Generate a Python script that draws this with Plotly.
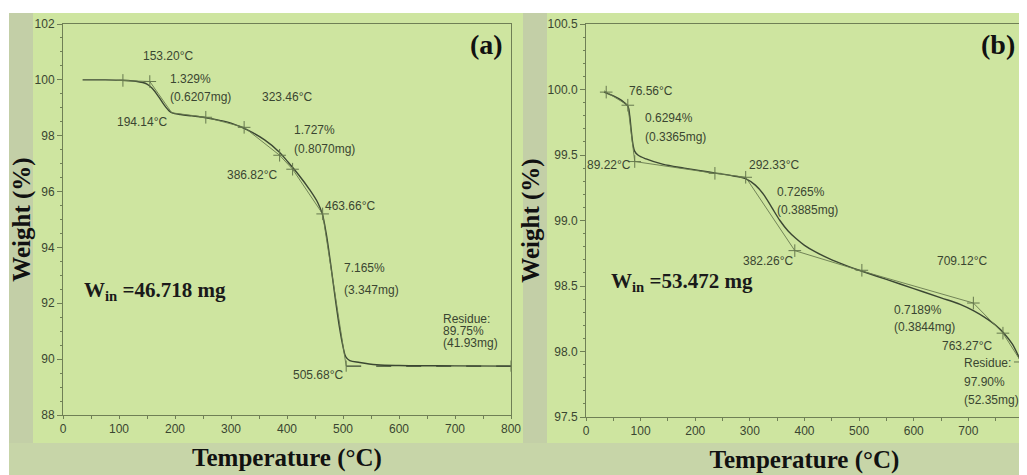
import plotly.graph_objects as go

# The page body keeps its default 8px margin, so the figure is drawn 8px smaller
# and every layout position below is given in window pixels minus that offset.
WIN_W, WIN_H = 1027, 475
OFF = 8
W, H = WIN_W - OFF, WIN_H - OFF

# ---------------- data: panel (a) ----------------
temp_a = [35, 70, 100, 130, 150, 160, 170, 180, 190, 195, 210, 230, 250, 280, 300, 330,
          360, 386, 400, 420, 440, 455, 463, 470, 478, 486, 494, 500, 505, 512, 530, 560,
          600, 700, 800]
weight_a = [100.0, 100.0, 99.99, 99.95, 99.85, 99.68, 99.42, 99.12, 98.88, 98.82, 98.76, 98.71,
            98.66, 98.55, 98.45, 98.2, 97.85, 97.42, 97.1, 96.62, 96.08, 95.6, 95.2, 94.5,
            93.4, 92.2, 91.1, 90.45, 90.08, 89.95, 89.88, 89.8, 89.77, 89.76, 89.75]

# tangent / construction lines (a)
tan_a_x = [[100, 155], [155, 194.14], [194.14, 255], [255, 323.46], [323.46, 386.82],
           [386.82, 410], [410, 463.66], [463.66, 505.68]]
tan_a_y = [[99.98, 99.94], [99.94, 98.82], [98.82, 98.66], [98.66, 98.3], [98.3, 97.3],
           [97.3, 96.8], [96.8, 95.2], [95.2, 89.75]]
mark_a_x = [107, 155, 255, 323.46, 386.82, 410, 463.66]
mark_a_y = [99.98, 99.94, 98.66, 98.3, 97.3, 96.8, 95.2]
resid_a_x = [505.68, 800]
resid_a_y = [89.75, 89.75]

labels_a = ["153.20°C", "1.329%", "(0.6207mg)", "194.14°C", "323.46°C", "1.727%",
            "(0.8070mg)", "386.82°C", "463.66°C", "7.165%", "(3.347mg)", "Residue:",
            "89.75%", "(41.93mg)", "505.68°C"]
lab_a_x = [140, 187, 187, 191, 352, 409, 409, 387, 464, 498, 498, 675, 675, 675, 505]
lab_a_y = [100.85, 100.02, 99.38, 98.5, 99.4, 98.22, 97.52, 96.58, 95.48, 93.27, 92.48,
           91.42, 90.99, 90.57, 89.44]
lab_a_anchor = ["left", "left", "left", "right", "left", "left", "left", "right", "left",
                "left", "left", "left", "left", "left", "right"]

# ---------------- data: panel (b) ----------------
temp_b = [33, 45, 60, 70, 77, 80, 83, 86, 89, 95, 110, 140, 180, 210, 240, 270, 292, 310,
          325, 340, 355, 370, 385, 400, 420, 450, 480, 500, 550, 600, 650, 685, 710, 730,
          750, 765, 780, 790, 800]
weight_b = [99.98, 99.96, 99.93, 99.9, 99.87, 99.8, 99.68, 99.58, 99.53, 99.5, 99.47,
            99.43, 99.4, 99.38, 99.36, 99.34, 99.32, 99.27, 99.2, 99.1, 99.0, 98.92,
            98.86, 98.81, 98.76, 98.7, 98.65, 98.62, 98.55, 98.48, 98.41, 98.36, 98.31,
            98.26, 98.2, 98.14, 98.06, 97.98, 97.88]

tan_b_x = [[33, 76.56], [76.56, 89.22], [89.22, 236], [236, 292.33], [292.33, 382.26],
           [382.26, 500], [500, 709.12], [709.12, 763.27], [763.27, 800]]
tan_b_y = [[99.99, 99.88], [99.88, 99.45], [99.45, 99.36], [99.36, 99.33], [99.33, 98.77],
           [98.77, 98.62], [98.62, 98.37], [98.37, 98.14], [98.14, 97.9]]
mark_b_x = [37, 76.56, 89.22, 236, 292.33, 382.26, 505, 709.12, 763.27, 795]
mark_b_y = [99.98, 99.88, 99.45, 99.36, 99.33, 98.77, 98.62, 98.37, 98.14, 97.92]

labels_b = ["76.56°C", "0.6294%", "(0.3365mg)", "89.22°C", "292.33°C", "0.7265%",
            "(0.3885mg)", "382.26°C", "709.12°C", "0.7189%", "(0.3844mg)", "763.27°C",
            "Residue:", "97.90%", "(52.35mg)"]
lab_b_x = [75, 104, 104, 86, 295, 346, 346, 385, 639, 561, 561, 648, 689, 689, 689]
lab_b_y = [99.99, 99.78, 99.64, 99.42, 99.42, 99.22, 99.08, 98.69, 98.69, 98.32, 98.19,
           98.04, 97.91, 97.77, 97.63]
lab_b_anchor = ["left", "left", "left", "right", "left", "left", "left", "right", "left",
                "left", "left", "left", "left", "left", "left"]

win_a = "W<sub>in</sub> =46.718 mg"
win_b = "W<sub>in</sub> =53.472 mg"

# ---------------- styling ----------------
CURVE = "#3b4733"
TAN = "#66784e"
AX = "#6f7f55"
TXT = "#3a4531"
PANEL = "#cee5a0"
OUTER = "#c7d5a8"
STRIP = "#c3cfa7"
SANS = "Liberation Sans, Arial, sans-serif"
SERIF = "Liberation Serif, Times New Roman, serif"


def px_x(p):
    return (p - OFF) / W


def px_y(p):
    return 1 - (p - OFF) / H


fig = go.Figure()

# panel (a)
fig.add_trace(go.Scatter(x=temp_a, y=weight_a, mode="lines", line=dict(color=CURVE, width=1.4),
                         xaxis="x", yaxis="y", showlegend=False, line_shape="spline"))
for xs, ys in zip(tan_a_x, tan_a_y):
    fig.add_trace(go.Scatter(x=xs, y=ys, mode="lines", line=dict(color=TAN, width=0.9),
                             xaxis="x", yaxis="y", showlegend=False))
fig.add_trace(go.Scatter(x=mark_a_x, y=mark_a_y, mode="markers",
                         marker=dict(symbol="cross-thin-open", size=9, color=TAN,
                                     line=dict(color=TAN, width=1)),
                         xaxis="x", yaxis="y", showlegend=False))
fig.add_trace(go.Scatter(x=resid_a_x, y=resid_a_y, mode="lines+markers",
                         line=dict(color=CURVE, width=1.2, dash="longdash"),
                         marker=dict(symbol="line-ns-open", size=8, color=TAN,
                                     line=dict(color=TAN, width=1)),
                         xaxis="x", yaxis="y", showlegend=False))

# panel (b)
fig.add_trace(go.Scatter(x=temp_b, y=weight_b, mode="lines", line=dict(color=CURVE, width=1.4),
                         xaxis="x2", yaxis="y2", showlegend=False, line_shape="spline"))
for xs, ys in zip(tan_b_x, tan_b_y):
    fig.add_trace(go.Scatter(x=xs, y=ys, mode="lines", line=dict(color=TAN, width=0.9),
                             xaxis="x2", yaxis="y2", showlegend=False))
fig.add_trace(go.Scatter(x=mark_b_x, y=mark_b_y, mode="markers",
                         marker=dict(symbol="cross-thin-open", size=9, color=TAN,
                                     line=dict(color=TAN, width=1)),
                         xaxis="x2", yaxis="y2", showlegend=False))

# backgrounds (window pixel coordinates converted to paper fractions)
shapes = [
    dict(type="rect", xref="paper", yref="paper", x0=px_x(9), x1=1, y0=0, y1=px_y(13),
         fillcolor=OUTER, line=dict(width=0), layer="below"),
    dict(type="rect", xref="paper", yref="paper", x0=px_x(523), x1=px_x(547), y0=px_y(443),
         y1=px_y(13), fillcolor=STRIP, line=dict(width=0), layer="below"),
    dict(type="rect", xref="paper", yref="paper", x0=px_x(9), x1=px_x(33), y0=px_y(443),
         y1=px_y(13), fillcolor=STRIP, line=dict(width=0), layer="below"),
    dict(type="rect", xref="paper", yref="paper", x0=px_x(33), x1=px_x(523), y0=px_y(443),
         y1=px_y(13), fillcolor=PANEL, line=dict(width=0), layer="below"),
    dict(type="rect", xref="paper", yref="paper", x0=px_x(547), x1=1, y0=px_y(443),
         y1=px_y(13), fillcolor=PANEL, line=dict(width=0), layer="below"),
]

annotations = []
for t, x, y, a in zip(labels_a, lab_a_x, lab_a_y, lab_a_anchor):
    annotations.append(dict(text=t, x=x, y=y, xref="x", yref="y", xanchor=a, yanchor="middle",
                            showarrow=False, font=dict(family=SANS, size=12, color=TXT)))
for t, x, y, a in zip(labels_b, lab_b_x, lab_b_y, lab_b_anchor):
    annotations.append(dict(text=t, x=x, y=y, xref="x2", yref="y2", xanchor=a, yanchor="middle",
                            showarrow=False, font=dict(family=SANS, size=12, color=TXT)))
annotations += [
    dict(text="<b>" + win_a + "</b>", x=34, y=92.45, xref="x", yref="y", xanchor="left",
         yanchor="middle", showarrow=False, font=dict(family=SERIF, size=21, color="#1a1a1a")),
    dict(text="<b>" + win_b + "</b>", x=43, y=98.53, xref="x2", yref="y2", xanchor="left",
         yanchor="middle", showarrow=False, font=dict(family=SERIF, size=21, color="#1a1a1a")),
    dict(text="<b>(a)</b>", x=px_x(505), y=px_y(44), xref="paper", yref="paper", xanchor="right",
         yanchor="middle", showarrow=False, font=dict(family=SERIF, size=28, color="#111")),
    dict(text="<b>(b)</b>", x=px_x(1017), y=px_y(44), xref="paper", yref="paper", xanchor="right",
         yanchor="middle", showarrow=False, font=dict(family=SERIF, size=28, color="#111")),
]

tickfont = dict(family=SANS, size=12, color=TXT)
titlefont = dict(family=SERIF, size=25, color="#111")


def xax(domain, anchor):
    return dict(domain=domain, anchor=anchor, range=[0, 800], tickmode="array",
                tickvals=[0, 100, 200, 300, 400, 500, 600, 700, 800], automargin=False,
                ticks="outside", ticklen=3, tickcolor=AX, tickwidth=1,
                minor=dict(dtick=50, ticks="outside", ticklen=3, tickcolor=AX),
                showline=True, linecolor=AX, linewidth=1, mirror=True, showgrid=False,
                zeroline=False, tickfont=tickfont,
                title=dict(text="<b>Temperature (°C)</b>", font=titlefont, standoff=13))


def yax(domain, anchor, rng, dtick, minor, fmt):
    return dict(domain=domain, anchor=anchor, range=rng, dtick=dtick, tick0=rng[0],
                ticks="outside", ticklen=5, tickcolor=AX, tickwidth=1, tickformat=fmt,
                automargin=False,
                minor=dict(dtick=minor, ticks="outside", ticklen=2, tickcolor=AX),
                showline=True, linecolor=AX, linewidth=1, mirror=True, showgrid=False,
                zeroline=False, tickfont=tickfont,
                title=dict(text="<b>Weight (%)</b>", font=titlefont, standoff=0))


fig.update_layout(
    width=W, height=H, margin=dict(l=0, r=0, t=0, b=0, pad=0),
    paper_bgcolor="white", plot_bgcolor="rgba(0,0,0,0)",
    shapes=shapes, annotations=annotations, showlegend=False,
    xaxis=xax([px_x(63), px_x(511)], "y"),
    yaxis=yax([px_y(415), px_y(24)], "x", [88, 102], 2, 0.5, "d"),
    xaxis2=xax([px_x(586), px_x(1023)], "y2"),
    yaxis2=yax([px_y(417), px_y(24)], "x2", [97.5, 100.5], 0.5, 0.1, ".1f"),
)

fig.write_html("out.html")
